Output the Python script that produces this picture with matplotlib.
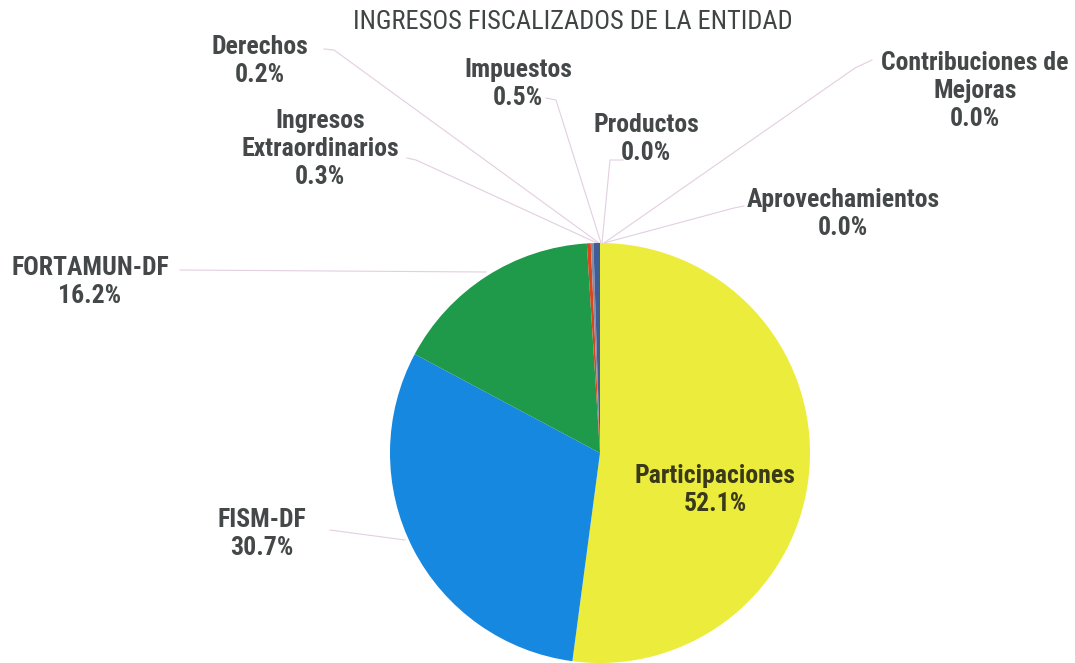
import numpy as np
import matplotlib.pyplot as plt

# Datos del gráfico
categorias = ['Participaciones', 'FISM-DF', 'FORTAMUN-DF', 'Ingresos\nExtraordinarios',
              'Derechos', 'Impuestos', 'Productos', 'Contribuciones de\nMejoras', 'Aprovechamientos']
porcentajes = [52.1, 30.7, 16.2, 0.3, 0.2, 0.5, 0.0, 0.0, 0.0]
colores = ['#ECEC3C', '#1788E0', '#1E9A4A', '#D8461E', '#8A8AA0', '#3F5E96',
           '#7A7A7A', '#A0A0A0', '#5E7F5E']

titulo = 'INGRESOS FISCALIZADOS DE LA ENTIDAD'

# Posicion de las etiquetas en pixeles (x, y) y punto donde empieza la guia
pos_etiquetas = {
    'Participaciones': (715, 490),
    'FISM-DF': (262, 534),
    'FORTAMUN-DF': (90, 282),
    'Ingresos\nExtraordinarios': (320, 149),
    'Derechos': (260, 61),
    'Impuestos': (518, 84),
    'Productos': (646, 139),
    'Contribuciones de\nMejoras': (975, 91),
    'Aprovechamientos': (843, 214),
}
guias = {
    'FISM-DF': [(330, 530), (405, 540)],
    'FORTAMUN-DF': [(180, 270), (486, 272)],
    'Ingresos\nExtraordinarios': [(407, 158), (416, 160), (597, 243)],
    'Derechos': [(324, 49), (334, 50), (599, 243)],
    'Impuestos': [(546, 98), (556, 100), (601, 243)],
    'Productos': [(623, 160), (610, 160), (602, 243)],
    'Contribuciones de\nMejoras': [(872, 60), (855, 68), (604, 243)],
    'Aprovechamientos': [(744, 206), (734, 208), (604, 243)],
}

W, H = 1075, 663
cx, cy, r = 600, 453, 210


def a_datos(px, py):
    return (px - cx) / r, (cy - py) / r


plt.rcParams['font.family'] = ['Roboto Condensed', 'PT Sans Narrow', 'Liberation Sans', 'DejaVu Sans']

fig = plt.figure(figsize=(W / 100, H / 100), dpi=100)
ax = fig.add_axes([0, 0, 1, 1])
ax.pie(porcentajes, colors=colores, startangle=90, counterclock=False, radius=1,
       wedgeprops=dict(linewidth=0))
ax.set_xlim(-cx / r, (W - cx) / r)
ax.set_ylim(-(H - cy) / r, cy / r)
ax.set_aspect('equal')
ax.axis('off')

for nombre, puntos in guias.items():
    xs, ys = zip(*[a_datos(px, py) for px, py in puntos])
    ax.plot(xs, ys, color='#E2CFE0', lw=0.8, zorder=0)

for nombre, pct in zip(categorias, porcentajes):
    px, py = pos_etiquetas[nombre]
    x, y = a_datos(px, py)
    color = '#3A3A1A' if nombre == 'Participaciones' else '#444848'
    ax.text(x, y, f'{nombre}\n{pct:.1f}%', ha='center', va='center', fontsize=18.5,
            fontweight='bold', color=color, linespacing=1.2)

tx, ty = a_datos(573, 22)
ax.text(tx, ty, titulo, ha='center', va='center', fontsize=19, color='#404444')

fig.savefig('out.png', dpi=100)
